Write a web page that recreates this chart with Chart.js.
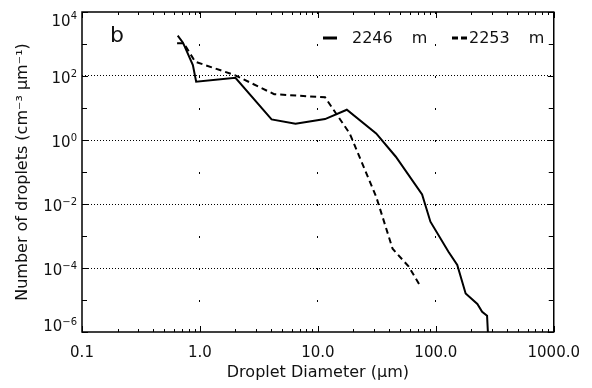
<!DOCTYPE html>
<html>
<head>
<meta charset="utf-8">
<script src="https://cdn.jsdelivr.net/npm/chart.js@4/dist/chart.umd.min.js"></script>
<style>
  html, body { margin: 0; padding: 0; background: #fff; }
  #wrap { width: 592px; height: 388px; }
</style>
</head>
<body>
<div id="wrap"><canvas id="c" width="592" height="388"></canvas></div>
<script>
// Droplet size distributions at two altitudes
const diam2246 = [0.648, 0.718, 0.871, 0.929, 2.0, 4.05, 6.46, 11.5, 17.6, 31.2, 45.8, 76.5, 90, 128, 152, 179, 225, 247, 272, 279];
const conc2246 = [1820, 1100, 221, 66, 88, 4.4, 3.2, 4.5, 8.8, 1.6, 0.30, 0.020, 0.0028, 3.2e-4, 1.24e-4, 1.6e-5, 7.5e-6, 4.3e-6, 3.2e-6, 5e-7];
const diam2253 = [0.64, 0.73, 0.91, 1.97, 4.26, 11.5, 18.6, 31.2, 43, 59, 74];
const conc2253 = [1050, 1050, 280, 107, 27, 21.6, 1.6, 0.017, 4.0e-4, 1.1e-4, 2.7e-5];
const seriesLabels = ['2246 m', '2253 m'];

const xTickValues = [0.1, 1, 10, 100, 1000];
const xTickLabels = ['0.1', '1.0', '10.0', '100.0', '1000.0'];
const yTickValues = [1e-6, 1e-4, 1e-2, 1, 1e2, 1e4];
const yTickExponents = ['\u22126', '\u22124', '\u22122', '0', '2', '4'];
const yMinorValues = [1e-5, 1e-3, 1e-1, 1e1, 1e3];
const panelLetter = 'b';

const FONT = 'DejaVu Sans';

function toPoints(xs, ys) { return xs.map((x, i) => ({ x: x, y: ys[i] })); }

// Frame, inward tick marks, y tick labels with superscripts, legend and panel letter
const decorations = {
  id: 'decorations',
  afterDraw(chart) {
    const ctx = chart.ctx;
    const a = chart.chartArea;
    const xs = chart.scales.x, ys = chart.scales.y;
    ctx.save();
    ctx.strokeStyle = '#000';
    ctx.lineWidth = 1.5;
    ctx.setLineDash([]);
    ctx.strokeRect(a.left, a.top, a.right - a.left, a.bottom - a.top);

    ctx.lineWidth = 1;
    const vline = (px, len) => {
      ctx.beginPath();
      ctx.moveTo(px, a.bottom); ctx.lineTo(px, a.bottom - len);
      ctx.moveTo(px, a.top); ctx.lineTo(px, a.top + len);
      ctx.stroke();
    };
    const hline = (py, len) => {
      ctx.beginPath();
      ctx.moveTo(a.left, py); ctx.lineTo(a.left + len, py);
      ctx.moveTo(a.right, py); ctx.lineTo(a.right - len, py);
      ctx.stroke();
    };
    xTickValues.forEach(v => vline(Math.round(xs.getPixelForValue(v)) + 0.5, 6));
    for (let k = 0; k < xTickValues.length - 1; k++) {
      for (let m = 2; m <= 9; m++) {
        vline(Math.round(xs.getPixelForValue(m * xTickValues[k])) + 0.5, 3);
      }
    }
    yTickValues.forEach(v => hline(Math.round(ys.getPixelForValue(v)) + 0.5, 6));
    yMinorValues.forEach(v => hline(Math.round(ys.getPixelForValue(v)) + 0.5, 5));

    // y tick labels: "10" with raised exponent
    ctx.fillStyle = '#111';
    ctx.textBaseline = 'alphabetic';
    yTickValues.forEach((v, i) => {
      const py = ys.getPixelForValue(v);
      const yc = Math.min(Math.max(py + 1.5, a.top + 8), a.bottom - 6.5);
      ctx.font = '10px "' + FONT + '"';
      ctx.textAlign = 'right';
      const exp = yTickExponents[i];
      const ew = ctx.measureText(exp).width;
      const rx = a.left - 5;
      ctx.fillText(exp, rx, yc - 1);
      ctx.font = '15px "' + FONT + '"';
      ctx.fillText('10', rx - ew, yc + 5.5);
    });

    // legend
    const ds = chart.data.datasets;
    ctx.font = '16px "' + FONT + '"';
    ctx.textAlign = 'left';
    ctx.fillStyle = '#111';
    if ('wordSpacing' in ctx) ctx.wordSpacing = '14px';
    const ly = 38;
    ctx.lineWidth = 3;
    ctx.beginPath(); ctx.moveTo(323, ly); ctx.lineTo(337, ly); ctx.stroke();
    ctx.fillText(ds[0].label, 352, 42.5);
    ctx.setLineDash([6, 3]);
    ctx.beginPath(); ctx.moveTo(452, ly); ctx.lineTo(467, ly); ctx.stroke();
    ctx.setLineDash([]);
    ctx.fillText(ds[1].label, 469, 42.5);
    if ('wordSpacing' in ctx) ctx.wordSpacing = '0px';

    ctx.font = '22px "' + FONT + '"';
    ctx.fillText(panelLetter, 110, 42);
    ctx.restore();
  }
};

const edgeX = v => v === xTickValues[0] || v === xTickValues[xTickValues.length - 1];
const edgeY = v => v === yTickValues[0] || v === yTickValues[yTickValues.length - 1];

new Chart(document.getElementById('c'), {
  type: 'line',
  data: {
    datasets: [
      {
        label: seriesLabels[0],
        data: toPoints(diam2246, conc2246),
        borderColor: '#000',
        borderWidth: 2,
        pointRadius: 0,
        tension: 0,
        fill: false
      },
      {
        label: seriesLabels[1],
        data: toPoints(diam2253, conc2253),
        borderColor: '#000',
        borderWidth: 2,
        borderDash: [6, 4],
        pointRadius: 0,
        tension: 0,
        fill: false
      }
    ]
  },
  options: {
    responsive: false,
    animation: false,
    devicePixelRatio: 1,
    layout: { padding: { left: 0, top: 12, right: 32, bottom: 0 } },
    plugins: { legend: { display: false }, tooltip: { enabled: false } },
    scales: {
      x: {
        type: 'logarithmic',
        min: 0.1,
        max: 1000,
        afterBuildTicks: s => { s.ticks = xTickValues.map(v => ({ value: v })); },
        afterFit: s => { s.height = 56; },
        ticks: {
          autoSkip: false,
          maxRotation: 0,
          padding: 12,
          color: '#111',
          font: { family: FONT, size: 15 },
          callback: (v, i) => xTickLabels[i]
        },
        grid: {
          drawTicks: false,
          lineWidth: 1,
          color: c => (c.tick && edgeX(c.tick.value)) ? 'rgba(0,0,0,0)' : '#000'
        },
        border: { display: false, dash: [2, 30] },
        title: {
          display: true,
          text: 'Droplet Diameter (\u03bcm)',
          color: '#111',
          font: { family: FONT, size: 16 },
          padding: { top: 0, bottom: 6 }
        }
      },
      y: {
        type: 'logarithmic',
        min: 1e-6,
        max: 1e4,
        afterBuildTicks: s => { s.ticks = yTickValues.map(v => ({ value: v })); },
        afterFit: s => { s.width = 82; },
        ticks: { display: false },
        grid: {
          drawTicks: false,
          lineWidth: 1,
          color: c => (c.tick && edgeY(c.tick.value)) ? 'rgba(0,0,0,0)' : '#000'
        },
        border: { display: false, dash: [1, 2] },
        title: {
          display: true,
          text: 'Number of droplets (cm\u207b\u00b3 \u03bcm\u207b\u00b9)',
          color: '#111',
          font: { family: FONT, size: 16 },
          padding: { top: 13, bottom: 0 }
        }
      }
    }
  },
  plugins: [decorations]
});
</script>
</body>
</html>
